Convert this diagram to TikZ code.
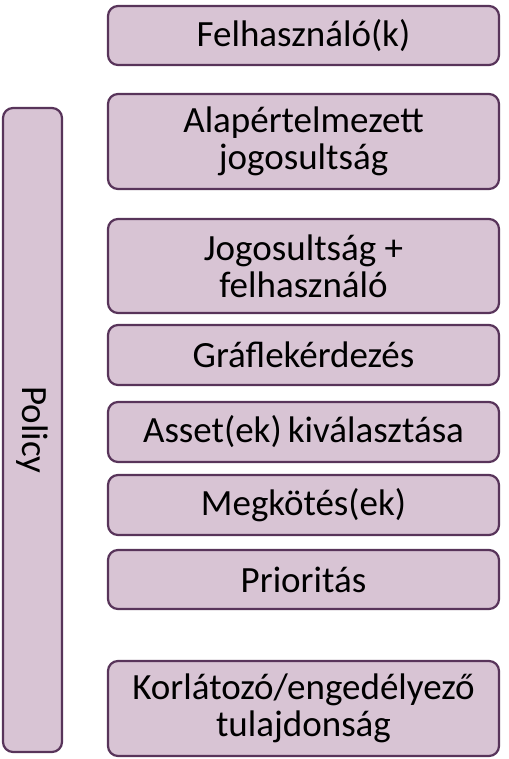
\documentclass[tikz,border=0pt]{standalone}
\usepackage{fontspec}
\setmainfont{Carlito}
\definecolor{boxfill}{RGB}{216,196,212}
\definecolor{boxline}{RGB}{88,52,90}
\tikzset{
    stepbox/.style={draw=boxline, fill=boxfill, line width=2.2pt, rounded corners=10pt,
        minimum width=391pt, align=center, inner sep=0pt, font=\fontsize{37}{37}\selectfont},
}
\begin{document}
\begin{tikzpicture}[x=1pt,y=-1pt]
        \useasboundingbox (0,0) rectangle (508,759);
        \node[stepbox, minimum height=59pt] (user) at (303.5,35.5) {Felhasználó(k)};
        \node[stepbox, minimum height=95pt] (default) at (303.5,141.5) {Alapértelmezett\\jogosultság};
        \node[stepbox, minimum height=94pt] (perm) at (303.5,266) {Jogosultság +\\felhasználó};
        \node[stepbox, minimum height=60pt] (query) at (303.5,355) {Gráflekérdezés};
        \node[stepbox, minimum height=60pt] (asset) at (303.5,432) {Asset(ek)\,kiválasztása};
        \node[stepbox, minimum height=60pt] (bind) at (303.5,505) {Megkötés(ek)};
        \node[stepbox, minimum height=59pt] (prio) at (303.5,579.5) {Prioritás};
        \node[stepbox, minimum height=95pt] (restrict) at (303.5,708.5) {Korlátozó/engedélyező\\tulajdonság};
        \node[stepbox, minimum width=59pt, minimum height=644pt] (policy) at (32.5,430) {};
        \node[rotate=-90, font=\fontsize{37}{37}\selectfont] (policylabel) at (policy.center) {Policy};
    \end{tikzpicture}
\end{document}
